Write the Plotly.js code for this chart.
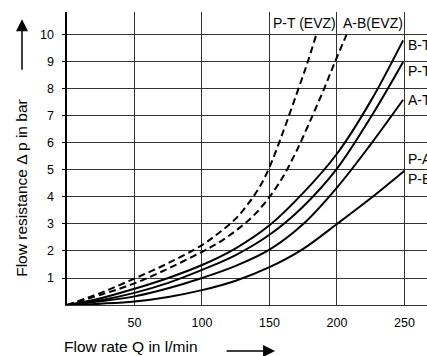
<!DOCTYPE html>
<html>
<head>
<meta charset="utf-8">
<script src="https://cdn.plot.ly/plotly-3.0.1.min.js"></script>
<style>html,body{margin:0;padding:0;background:#fff;}#chart{width:427px;height:356px;}</style>
</head>
<body>
<div id="chart"></div>
<script>
// Flow rate Q (l/min) and flow resistance Δp (bar)
const qBT = [0, 25, 50, 75, 100, 125, 150, 175, 200, 225, 249];
const pBT = [0, 0.25, 0.6, 1.0, 1.48, 2.1, 2.95, 4.15, 5.6, 7.55, 9.8];

const qPT = [0, 25, 50, 75, 100, 125, 150, 175, 200, 225, 249];
const pPT = [0, 0.18, 0.45, 0.82, 1.3, 1.85, 2.6, 3.65, 5.05, 6.95, 9.0];

const qAT = [0, 25, 50, 75, 100, 125, 150, 175, 200, 225, 249];
const pAT = [0, 0.14, 0.32, 0.62, 1.0, 1.45, 2.05, 3.0, 4.35, 5.95, 7.6];

const qPB = [0, 25, 50, 75, 100, 125, 150, 175, 200, 225, 250];
const pPB = [0, 0.05, 0.13, 0.3, 0.55, 0.9, 1.4, 2.08, 3.0, 3.95, 4.97];

const qPTevz = [0, 25, 50, 75, 100, 112, 125, 135, 143, 150, 160, 170, 178, 184.6];
const pPTevz = [0, 0.45, 0.98, 1.55, 2.22, 2.65, 3.2, 3.8, 4.4, 5.1, 6.4, 7.8, 8.95, 10.0];

const qABevz = [0, 25, 50, 75, 100, 112, 125, 138, 150, 160, 170, 180, 190, 198.5, 207];
const pABevz = [0, 0.38, 0.8, 1.35, 1.97, 2.3, 2.75, 3.3, 4.0, 4.75, 5.7, 6.8, 7.95, 9.0, 10.0];

const xTicks = [50, 100, 150, 200, 250];
const yTicks = [1, 2, 3, 4, 5, 6, 7, 8, 9, 10];

const curveLabels = ["B-T", "P-T", "A-T", "P-A", "P-B"];
const curveLabelY = [9.63, 8.67, 7.6, 5.4, 4.67];
const topLabels = ["P-T (EVZ)", "A-B(EVZ)"];
const topLabelX = [176, 227];

const FONT = "Liberation Sans, Arial, sans-serif";

function solid(x, y, name) {
  return {x: x, y: y, name: name, type: "scatter", mode: "lines",
    line: {color: "#000", width: 2, shape: "spline", smoothing: 1}, hoverinfo: "skip"};
}
function dashed(x, y, name) {
  return {x: x, y: y, name: name, type: "scatter", mode: "lines",
    line: {color: "#000", width: 2, dash: "7px,4px", shape: "spline", smoothing: 1}, hoverinfo: "skip"};
}

const data = [
  dashed(qPTevz, pPTevz, "P-T (EVZ)"),
  dashed(qABevz, pABevz, "A-B(EVZ)"),
  solid(qBT, pBT, "B-T"),
  solid(qPT, pPT, "P-T"),
  solid(qAT, pAT, "A-T"),
  solid(qPB, pPB, "P-A / P-B")
];

const annotations = [];
curveLabels.forEach((t, i) => annotations.push({
  x: 251, y: curveLabelY[i], xref: "x", yref: "y", text: t, showarrow: false,
  xanchor: "left", yanchor: "middle", font: {family: FONT, size: 14, color: "#000"}
}));
topLabels.forEach((t, i) => annotations.push({
  x: topLabelX[i], y: 10.45, xref: "x", yref: "y", text: t, showarrow: false,
  xanchor: "center", yanchor: "middle", font: {family: FONT, size: 14, color: "#000"}
}));
// axis titles
annotations.push({
  x: -0.125, y: 0.40, xref: "paper", yref: "paper", text: "Flow resistance Δ p in bar",
  textangle: -90, showarrow: false, xanchor: "center", yanchor: "middle",
  font: {family: FONT, size: 15.5, color: "#000"}
});
annotations.push({
  x: 0.178, y: -0.14, xref: "paper", yref: "paper", text: "Flow rate Q in l/min",
  showarrow: false, xanchor: "center", yanchor: "middle",
  font: {family: FONT, size: 15.5, color: "#000"}
});
// arrows
annotations.push({
  x: -0.125, y: 0.975, xref: "paper", yref: "paper", text: "", showarrow: true,
  ax: 0, ay: 52, arrowhead: 2, arrowsize: 1.6, arrowwidth: 1.5, arrowcolor: "#000"
});
annotations.push({
  x: 0.578, y: -0.157, xref: "paper", yref: "paper", text: "", showarrow: true,
  ax: -50, ay: 0, arrowhead: 2, arrowsize: 1.6, arrowwidth: 1.5, arrowcolor: "#000"
});

const layout = {
  width: 427, height: 356,
  margin: {l: 67, r: 0, t: 12, b: 51},
  paper_bgcolor: "#fff", plot_bgcolor: "#fff",
  showlegend: false,
  xaxis: {
    range: [0, 266.7], tickvals: xTicks, ticktext: xTicks.map(String),
    showgrid: true, gridcolor: "#333", gridwidth: 1,
    zeroline: false, showline: true, linecolor: "#333", linewidth: 1,
    ticks: "", ticklabelstandoff: 6,
    tickfont: {family: FONT, size: 12.5, color: "#000"}
  },
  yaxis: {
    range: [0, 10.85], tickvals: yTicks, ticktext: yTicks.map(String),
    showgrid: true, gridcolor: "#333", gridwidth: 1,
    zeroline: false, showline: true, linecolor: "#000", linewidth: 2.5,
    ticks: "outside", ticklen: 3, tickcolor: "#000", ticklabelstandoff: 5,
    tickfont: {family: FONT, size: 12.5, color: "#000"}
  },
  annotations: annotations
};

Plotly.newPlot("chart", data, layout, {displayModeBar: false, staticPlot: true});
</script>
</body>
</html>
